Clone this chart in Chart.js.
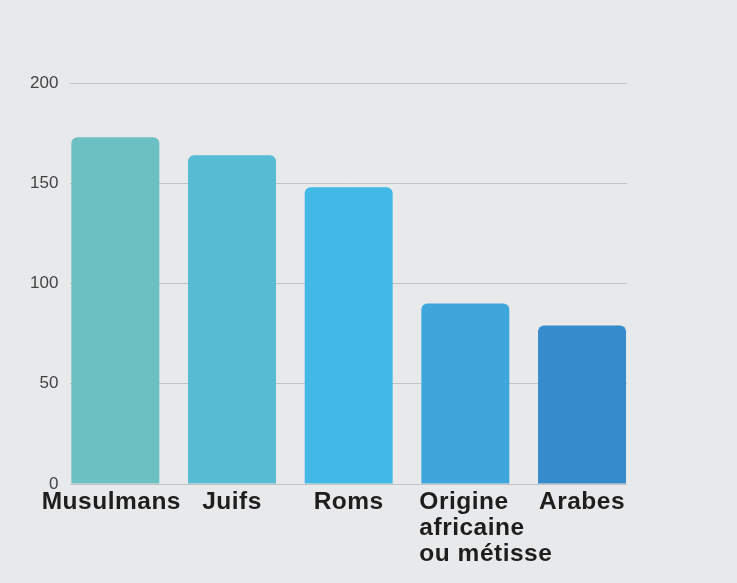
<!DOCTYPE html>
<html>
<head>
<meta charset="utf-8">
<script src="https://cdn.jsdelivr.net/npm/chart.js@4/dist/chart.umd.min.js"></script>
<style>
  html, body { margin: 0; padding: 0; background: #e8e9eb; }
  #wrap { width: 737px; height: 583px; }
</style>
</head>
<body>
<div id="wrap"><canvas id="c" width="737" height="583"></canvas></div>
<script>
const categories = ["Musulmans", "Juifs", "Roms", ["Origine", "africaine", "ou métisse"], "Arabes"];
const values = [173, 164, 148, 90, 79];
const barColors = ["#6cc0c2", "#58bbd4", "#42b8e6", "#3fa6dc", "#358bcb"];
const yTicks = [0, 50, 100, 150, 200];

const xLabelPlugin = {
  id: 'xLabels',
  afterDraw(chart) {
    const ctx = chart.ctx;
    const xs = chart.scales.x;
    const meta = chart.getDatasetMeta(0);
    ctx.save();
    ctx.fillStyle = '#1e1e1e';
    ctx.font = 'bold 24.5px "Liberation Sans", Arial, sans-serif';
    if ('letterSpacing' in ctx) ctx.letterSpacing = '0.5px';
    ctx.textBaseline = 'alphabetic';
    const baseY = chart.chartArea.bottom + 25;
    const lineH = 26;
    categories.forEach((lab, i) => {
      const cx = xs.getPixelForValue(i);
      if (Array.isArray(lab)) {
        const half = meta.data[i].width / 2;
        ctx.textAlign = 'left';
        lab.forEach((line, j) => ctx.fillText(line, cx - half - 2, baseY + j * lineH));
      } else {
        ctx.textAlign = 'center';
        ctx.fillText(lab, cx - (i === 0 ? 4 : 0), baseY);
      }
    });
    ctx.restore();
  }
};

new Chart(document.getElementById('c'), {
  type: 'bar',
  data: {
    labels: categories,
    datasets: [{
      data: values.map((v, i) => ({ x: i, y: v })),
      backgroundColor: barColors,
      borderRadius: { topLeft: 6, topRight: 6, bottomLeft: 0, bottomRight: 0 },
      borderSkipped: 'bottom',
      barPercentage: 0.754,
      categoryPercentage: 1.0
    }]
  },
  options: {
    responsive: false,
    animation: false,
    devicePixelRatio: 1,
    layout: { padding: { left: 18, right: 110, top: 83, bottom: 91 } },
    plugins: { legend: { display: false }, tooltip: { enabled: false } },
    scales: {
      x: {
        type: 'linear',
        min: -0.3855,
        max: 4.3855,
        offset: false,
        afterBuildTicks(scale) { scale.ticks = values.map((v, i) => ({ value: i })); },
        ticks: { display: false },
        grid: { display: false },
        border: { display: false }
      },
      y: {
        min: 0,
        max: 200,
        afterBuildTicks(scale) { scale.ticks = yTicks.map(v => ({ value: v })); },
        ticks: {
          color: '#444444',
          padding: 12,
          font: { family: '"Liberation Sans", Arial, sans-serif', size: 17 }
        },
        grid: { color: '#c2c3c5', lineWidth: 1, drawTicks: false },
        border: { display: false }
      }
    }
  },
  plugins: [xLabelPlugin]
});
</script>
</body>
</html>
